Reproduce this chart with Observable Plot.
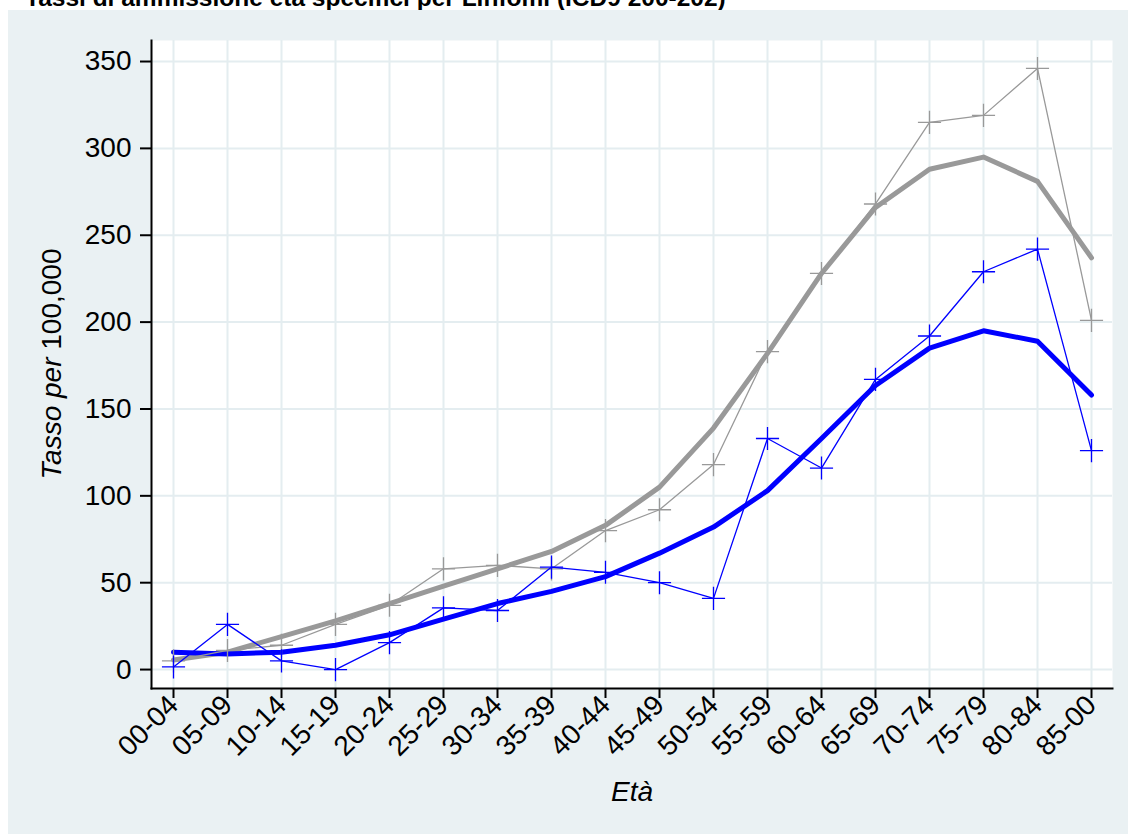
<!DOCTYPE html>
<html><head><meta charset="utf-8">
<script src="https://cdn.jsdelivr.net/npm/d3@7"></script>
<script src="https://cdn.jsdelivr.net/npm/@observablehq/plot@0.6"></script>
<style>
html,body{margin:0;padding:0;background:#fff;width:1128px;height:834px;overflow:hidden;font-family:"Liberation Sans",Arial,sans-serif;}
#title{position:absolute;left:25px;top:-14px;font-weight:bold;font-size:24.5px;line-height:24.5px;white-space:nowrap;color:#000;}
#panel{position:absolute;left:8px;top:10px;width:1120px;height:824px;background:#eaf1f3;}
</style></head><body>
<div id="title">Tassi di ammissione età specifici per Linfomi (ICD9 200-202)</div>
<div id="panel"></div>
<script>
const ageGroups = ["00-04","05-09","10-14","15-19","20-24","25-29","30-34","35-39","40-44","45-49","50-54","55-59","60-64","65-69","70-74","75-79","80-84","85-00"];
const greyObserved = [5, 11, 14, 26, 37, 58, 60, 58, 80, 92, 118, 183, 228, 268, 315, 319, 346, 201];
const greyFitted   = [5.5, 10, 19, 28, 38, 48, 58, 68, 83, 105, 139, 182, 228, 266, 288, 295, 281, 237];
const blueObserved = [1.5, 26, 5, 0, 15.5, 35.5, 34, 59, 56, 50, 41, 133, 116, 167, 192, 229, 242, 126];
const blueFitted   = [10, 9, 10, 14, 20, 29, 38, 45, 53.5, 67, 82, 103, 133, 163.5, 185, 195, 189, 158];
const yTicks = [0, 50, 100, 150, 200, 250, 300, 350];

const rows = (vals) => ageGroups.map((a, i) => ({age: a, value: vals[i]}));
const gObs = rows(greyObserved), gFit = rows(greyFitted), bObs = rows(blueObserved), bFit = rows(blueFitted);

const FONT = "Liberation Sans, Arial, sans-serif";
const chart = Plot.plot({
  width: 1120, height: 824,
  marginLeft: 143, marginTop: 30, marginRight: 16, marginBottom: 146,
  style: {background: "transparent", fontFamily: FONT, color: "#000"},
  x: {type: "point", domain: ageGroups, padding: 0.33, axis: null},
  y: {domain: [-10.9, 362.1], axis: null},
  marks: [
    Plot.frame({fill: "white", stroke: null}),
    Plot.gridX(ageGroups, {stroke: "#e4edf0", strokeOpacity: 1, strokeWidth: 2}),
    Plot.gridY(yTicks, {stroke: "#e4edf0", strokeOpacity: 1, strokeWidth: 2}),
    Plot.line(gFit, {x: "age", y: "value", stroke: "#999999", strokeWidth: 5}),
    Plot.line(bFit, {x: "age", y: "value", stroke: "#0000ff", strokeWidth: 5}),
    Plot.line(gObs, {x: "age", y: "value", stroke: "#999999", strokeWidth: 1.3}),
    Plot.dot(gObs, {x: "age", y: "value", symbol: "plus", r: 7.5, stroke: "#999999", strokeWidth: 1.3}),
    Plot.line(bObs, {x: "age", y: "value", stroke: "#0000ff", strokeWidth: 1.3}),
    Plot.dot(bObs, {x: "age", y: "value", symbol: "plus", r: 7.5, stroke: "#0000ff", strokeWidth: 1.3}),
    Plot.frame({anchor: "left", stroke: "#000", strokeWidth: 2}),
    Plot.frame({anchor: "bottom", stroke: "#000", strokeWidth: 2}),
    Plot.axisY(yTicks, {tickSize: 11, tickPadding: 9, fontSize: 28, strokeWidth: 2, label: null}),
    Plot.axisX(ageGroups, {tickRotate: -45, tickSize: 10, tickPadding: 2, fontSize: 28, strokeWidth: 2, label: null}),
    Plot.text(["Età"], {frameAnchor: "bottom", dy: 112, lineAnchor: "bottom", fontSize: 28, fontStyle: "italic", fill: "#000"})
  ]
});
document.getElementById("panel").appendChild(chart);

// y-axis title with mixed styles
const svg = d3.select(chart);
const t = svg.append("text")
  .attr("transform", `translate(53,${(30 + 824 - 146) / 2}) rotate(-90)`)
  .attr("text-anchor", "middle")
  .attr("font-size", 28)
  .attr("font-family", FONT)
  .attr("fill", "#000");
t.append("tspan").attr("font-style", "italic").text("Tasso per");
t.append("tspan").text(" 100,000");
</script>
</body></html>
